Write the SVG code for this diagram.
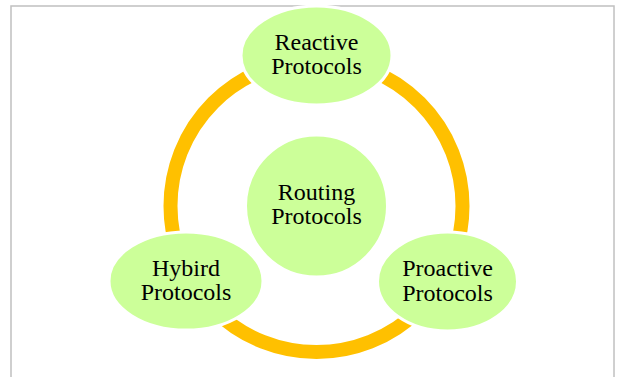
<svg xmlns="http://www.w3.org/2000/svg" width="618" height="377" viewBox="0 0 618 377">
<style>
.node{fill:#CCFF99;stroke:#FFFFFF;stroke-width:3}
.lbl{font-family:"Liberation Serif","Times New Roman",serif;font-size:24px;fill:#000;text-anchor:middle}
.ring{fill:none;stroke:#FFC000;stroke-width:14}
</style>
<rect x="0" y="0" width="618" height="377" fill="#FFFFFF"/>
<rect x="11" y="6" width="603" height="380" fill="none" stroke="#C0C0C0" stroke-width="1.5"/>
<g id="connectors">
<circle class="ring" cx="316.5" cy="206" r="146"/>
</g>
<g id="routing">
<circle class="node" cx="316.5" cy="206" r="71"/>
<text class="lbl" x="316.5" y="200">Routing</text>
<text class="lbl" x="316.5" y="224">Protocols</text>
</g>
<g id="reactive">
<ellipse class="node" cx="316.5" cy="55.5" rx="75.5" ry="49.5"/>
<text class="lbl" x="316.5" y="50">Reactive</text>
<text class="lbl" x="316.5" y="74">Protocols</text>
</g>
<g id="hybird">
<ellipse class="node" cx="186" cy="281" rx="77" ry="49"/>
<text class="lbl" x="186" y="275.5">Hybird</text>
<text class="lbl" x="186" y="300">Protocols</text>
</g>
<g id="proactive">
<ellipse class="node" cx="447.5" cy="281.5" rx="70" ry="49.5"/>
<text class="lbl" x="447.5" y="275.5">Proactive</text>
<text class="lbl" x="447.5" y="300.5">Protocols</text>
</g>
</svg>
